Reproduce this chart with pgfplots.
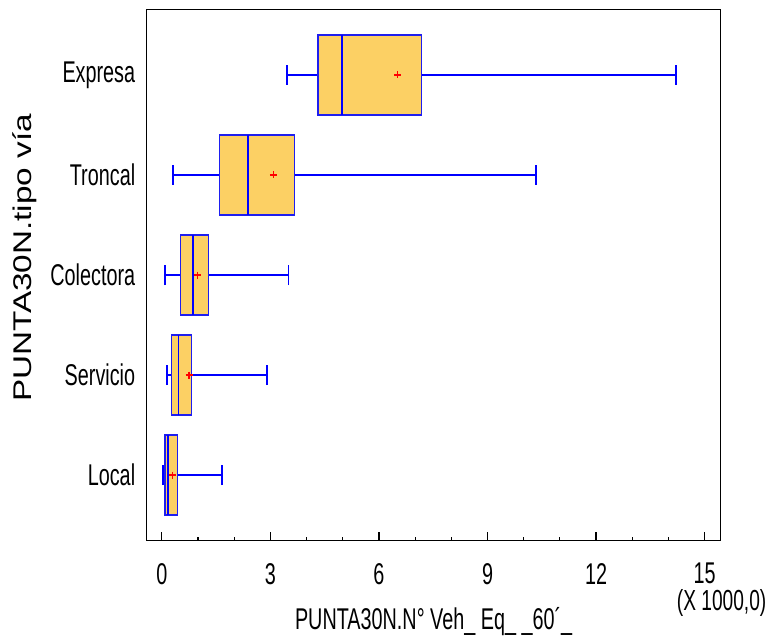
\documentclass[border=0pt]{standalone}
\usepackage{fontspec}
\usepackage{pgfplots}
\pgfplotsset{compat=1.18}
\usepgfplotslibrary{statistics}
\setmainfont{Liberation Sans}
\newfontfamily\narrow[FakeStretch=0.66]{Liberation Sans}
\newfontfamily\wide[FakeStretch=1.3]{Liberation Sans}
\definecolor{boxfill}{RGB}{252,208,100}
\definecolor{edgeblue}{RGB}{30,30,240}
\pgfplotsset{
  mybox/.style={
    boxplot/draw direction=x,
    boxplot/box extend=0.8,
    boxplot/whisker extend=0.2,
    boxplot/every box/.style={draw=edgeblue, fill=boxfill, line width=1.4pt},
    boxplot/every median/.style={draw=blue, line width=1.8pt},
    boxplot/every whisker/.style={draw=blue, line width=1.9pt},
  }
}
\begin{document}
\begin{tikzpicture}
\useasboundingbox (0,0) rectangle (769pt,641pt);
\begin{axis}[
  at={(146.7pt,100.3pt)}, anchor=south west,
  scale only axis, width=573.8pt, height=531.4pt,
  xmin=-0.42, xmax=15.44, ymin=0.343, ymax=5.657,
  xtick={0,3,6,9,12,15}, minor x tick num=2,
  ytick={1,2,3,4,5},
  yticklabels={Local,Servicio,Colectora,Troncal,Expresa},
  xtick pos=bottom, ytick pos=left,
  tick align=inside,
  major tick length=9pt, minor tick length=4pt,
  every tick/.style={black, line width=1.2pt},
  ytick style={draw=none},
  axis line style={line width=1.3pt},
  /pgf/number format/assume math mode=true,
  tick label style={font=\narrow\fontsize{30}{32}\selectfont},
  xticklabel style={anchor=north, yshift=-19pt},
  yticklabel style={anchor=east, xshift=-8pt},
  xlabel={PUNTA30N.N° Veh\_ Eq\_ \_60´\_},
  xlabel style={font=\narrow\fontsize{30}{32}\selectfont, at={(axis description cs:0.5,-0.152)}, anchor=center},
  ylabel={PUNTA30N.tipo vía},
  ylabel style={font=\wide\fontsize{25.6}{28}\selectfont, at={(axis description cs:-0.213,0.532)}, anchor=center},
  clip=false,
]
\addplot[mybox, boxplot prepared={draw position=5, lower whisker=3.45, lower quartile=4.32, median=4.98, upper quartile=7.17, upper whisker=14.22}] coordinates {};
\addplot[mybox, boxplot prepared={draw position=4, lower whisker=0.30, lower quartile=1.585, median=2.37, upper quartile=3.66, upper whisker=10.35}] coordinates {};
\addplot[mybox, boxplot prepared={draw position=3, lower whisker=0.09, lower quartile=0.51, median=0.87, upper quartile=1.28, upper whisker=3.50}] coordinates {};
\addplot[mybox, boxplot prepared={draw position=2, lower whisker=0.13, lower quartile=0.27, median=0.46, upper quartile=0.82, upper whisker=2.91}] coordinates {};
\addplot[mybox, boxplot prepared={draw position=1, lower whisker=0.03, lower quartile=0.09, median=0.175, upper quartile=0.43, upper whisker=1.65}] coordinates {};
\addplot[only marks, mark=+, red, mark size=3.5pt, line width=1.3pt] coordinates {(6.52,5) (3.08,4) (0.99,3) (0.75,2) (0.30,1)};
\node[font=\narrow\fontsize{29}{31}\selectfont, anchor=center] at (axis description cs:1.002,-0.117) {(X 1000,0)};
\end{axis}
\end{tikzpicture}
\end{document}
